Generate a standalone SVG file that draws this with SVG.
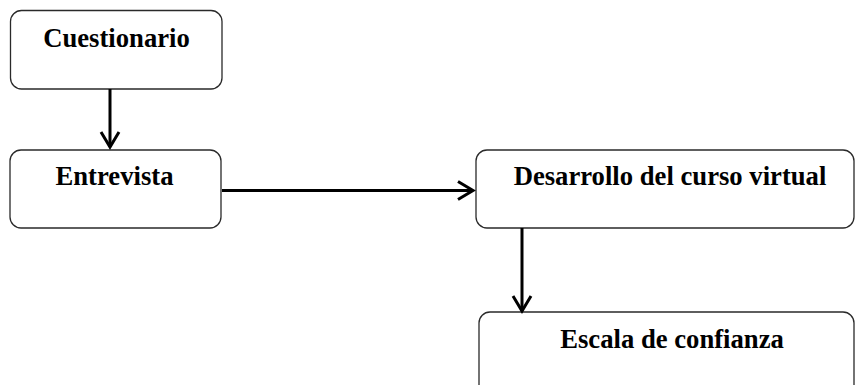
<svg xmlns="http://www.w3.org/2000/svg" width="855" height="385" viewBox="0 0 855 385">
  <style>
    .box { fill: #ffffff; stroke: #2a2a2a; stroke-width: 1.3; }
    .label { font-family: "Liberation Serif", "Times New Roman", serif; font-weight: bold; font-size: 26.67px; fill: #000000; text-anchor: middle; }
    .link { fill: none; stroke: #000000; stroke-width: 3; }
  </style>
  <defs>
    <marker id="arrow-open" markerUnits="userSpaceOnUse" markerWidth="24" markerHeight="24" viewBox="-18 -12 20 24" refX="0" refY="0" orient="auto">
      <path d="M-15,-9 L0,0 L-15,9" fill="none" stroke="#000000" stroke-width="3" stroke-linejoin="miter"/>
    </marker>
  </defs>

  <g id="node-cuestionario">
    <rect class="box" x="10.5" y="10.5" width="211.5" height="78.5" rx="11" ry="11"/>
    <text class="label" x="116.5" y="47">Cuestionario</text>
  </g>

  <g id="node-entrevista">
    <rect class="box" x="10" y="150" width="211" height="78" rx="11" ry="11"/>
    <text class="label" x="114.5" y="185">Entrevista</text>
  </g>

  <g id="node-desarrollo">
    <rect class="box" x="476" y="150" width="378" height="78" rx="11" ry="11"/>
    <text class="label" x="670" y="185">Desarrollo del curso virtual</text>
  </g>

  <g id="node-escala">
    <rect class="box" x="479" y="312" width="375" height="90" rx="11" ry="11"/>
    <text class="label" x="672" y="348">Escala de confianza</text>
  </g>

  <g id="connectors">
    <line class="link" x1="110" y1="89" x2="110" y2="147" marker-end="url(#arrow-open)"/>
    <line class="link" x1="222" y1="190.5" x2="473" y2="190.5" marker-end="url(#arrow-open)"/>
    <line class="link" x1="522" y1="228" x2="522" y2="311" marker-end="url(#arrow-open)"/>
  </g>
</svg>
